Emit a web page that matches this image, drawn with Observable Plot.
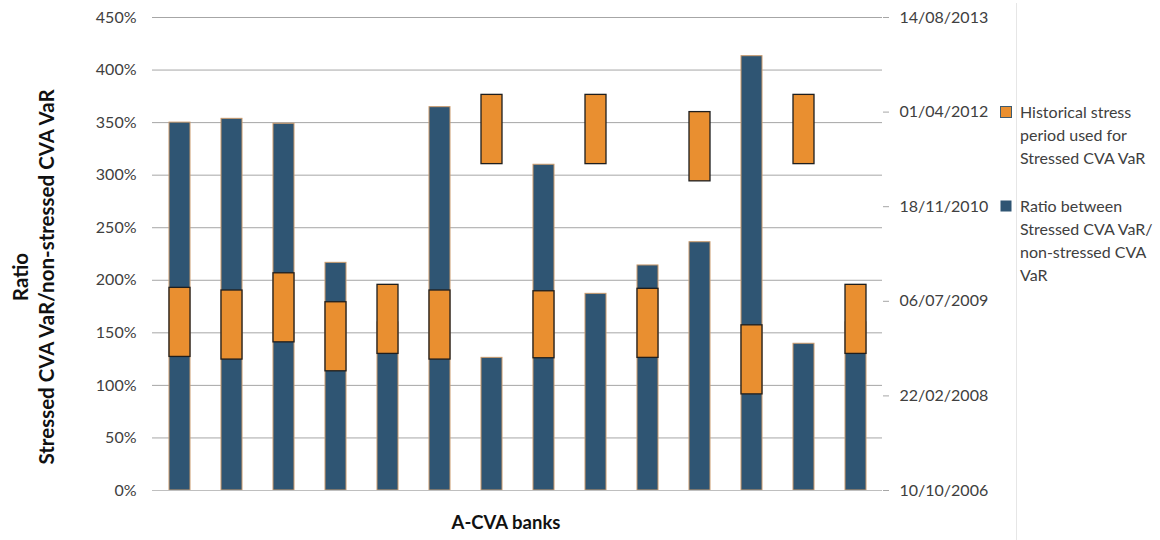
<!DOCTYPE html>
<html>
<head>
<meta charset="utf-8">
<script src="https://cdn.jsdelivr.net/npm/d3@7"></script>
<script src="https://cdn.jsdelivr.net/npm/@observablehq/plot@0.6"></script>
<style>
  html, body { margin: 0; padding: 0; background: #fff; }
  #chart svg { display: block; }
</style>
</head>
<body>
<div id="chart"></div>
<script>
// ---- Data ----
const banks = ["1","2","3","4","5","6","7","8","9","10","11","12","13","14"];
// Ratio between Stressed CVA VaR / non-stressed CVA VaR (1 = 100%)
const ratio = [3.50, 3.536, 3.489, 2.166, 1.60, 3.647, 1.262, 3.099, 1.871, 2.141, 2.362, 4.132, 1.396, 1.60];
// Historical stress period used for Stressed CVA VaR
const stressStart = ["2008-09-15","2008-09-01","2008-12-01","2008-07-01","2008-10-01","2008-09-01","2011-07-01","2008-09-08","2011-07-01","2008-09-10","2011-04-01","2008-03-01","2011-07-01","2008-10-01"];
const stressEnd   = ["2009-09-15","2009-09-01","2009-12-01","2009-07-01","2009-10-01","2009-09-01","2012-07-01","2009-08-28","2012-07-01","2009-09-10","2012-04-01","2009-03-01","2012-07-01","2009-10-01"];
const leftTicks = [0, 0.5, 1, 1.5, 2, 2.5, 3, 3.5, 4, 4.5];
const rightTickLabels = ["10/10/2006","22/02/2008","06/07/2009","18/11/2010","01/04/2012","14/08/2013"];
const legendLabels = [
  ["Historical stress", "period used for", "Stressed CVA VaR"],
  ["Ratio between", "Stressed CVA VaR/", "non-stressed CVA", "VaR"]
];
const xTitle = "A-CVA banks";
const yTitle = ["Ratio", "Stressed CVA VaR/non-stressed CVA VaR"];

// ---- Colours ----
const BLUE = "#2f5573";
const ORANGE = "#e98f30";
const FONT = "Lato, 'Open Sans', sans-serif";

// secondary (date) axis mapped onto the ratio axis
const parseDMY = d3.utcParse("%d/%m/%Y");
const parseISO = d3.utcParse("%Y-%m-%d");
const dateToY = d3.scaleUtc()
  .domain([parseDMY(rightTickLabels[0]), parseDMY(rightTickLabels[rightTickLabels.length - 1])])
  .range([0, 4.5]);

const ratioData = banks.map((b, i) => ({bank: b, value: ratio[i]}));
const stressData = banks.map((b, i) => ({
  bank: b,
  y1: dateToY(parseISO(stressStart[i])),
  y2: dateToY(parseISO(stressEnd[i]))
}));
const rightTickPos = rightTickLabels.map(s => dateToY(parseDMY(s)));

const plot = Plot.plot({
  width: 1160,
  height: 540,
  marginLeft: 152,
  marginRight: 278,
  marginTop: 17,
  marginBottom: 50,
  style: {fontFamily: FONT, fontSize: "16px", color: "#404040", background: "#fff"},
  x: {type: "band", domain: banks, paddingInner: 0.6, paddingOuter: 0.31, axis: null},
  y: {domain: [0, 4.5], axis: null},
  marks: [
    Plot.gridY(leftTicks, {stroke: "#a6a6a6", strokeOpacity: 1, strokeWidth: 1}),
    Plot.ruleX([0], {frameAnchor: "left", stroke: "#bfbfbf"}),
    Plot.barY(ratioData, {x: "bank", y: "value", fill: BLUE, stroke: "#c99a6c", strokeWidth: 1}),
    Plot.barY(stressData, {x: "bank", y1: "y1", y2: "y2", fill: ORANGE, stroke: "#1e1e1e", strokeWidth: 1.3}),
    Plot.axisY(leftTicks, {
      anchor: "left", tickSize: 0, tickPadding: 16,
      tickFormat: d3.format(".0%"), label: null, fontSize: 16, fill: "#404040"
    }),
    Plot.axisY(rightTickPos, {
      anchor: "right", tickSize: 6, tickPadding: 11, stroke: "#a6a6a6",
      tickFormat: (d, i) => rightTickLabels[i], label: null, fontSize: 16, fill: "#404040"
    }),
    Plot.ruleY([0], {stroke: "#bfbfbf"}),
    Plot.ruleX([0], {frameAnchor: "right", stroke: "#bfbfbf"})
  ]
});

document.getElementById("chart").appendChild(plot);

// ---- Titles and legend ----
const svg = d3.select(plot);
const g = svg.append("g").attr("font-family", FONT).attr("text-anchor", "start");

// right-side faint border
g.append("line").attr("x1", 1016.5).attr("x2", 1016.5).attr("y1", 3).attr("y2", 540)
  .attr("stroke", "#e6e6e6");

g.append("text").attr("x", 506).attr("y", 529).attr("text-anchor", "middle")
  .attr("font-size", 18.5).attr("font-weight", "bold").attr("fill", "#111").text(xTitle);

const yt = g.append("text").attr("transform", "translate(0,277) rotate(-90)")
  .attr("text-anchor", "middle").attr("font-size", 20.5).attr("font-weight", "bold").attr("fill", "#111");
yt.append("tspan").attr("x", 0).attr("y", 28).text(yTitle[0]);
yt.append("tspan").attr("x", 0).attr("y", 54).text(yTitle[1]);

// legend
const legendItems = [
  {color: ORANGE, stroke: "#3e5b70", top: 106.5, lines: legendLabels[0]},
  {color: BLUE, stroke: "none", top: 200.5, lines: legendLabels[1]}
];
legendItems.forEach(it => {
  g.append("rect").attr("x", 1000.5).attr("y", it.top).attr("width", 11).attr("height", 11)
    .attr("fill", it.color).attr("stroke", it.stroke).attr("stroke-width", 1);
  const t = g.append("text").attr("font-size", 16).attr("fill", "#404040").attr("text-anchor", "start");
  it.lines.forEach((ln, j) => {
    t.append("tspan").attr("x", 1020).attr("y", it.top + 11 + j * 23).text(ln);
  });
});
</script>
</body>
</html>
